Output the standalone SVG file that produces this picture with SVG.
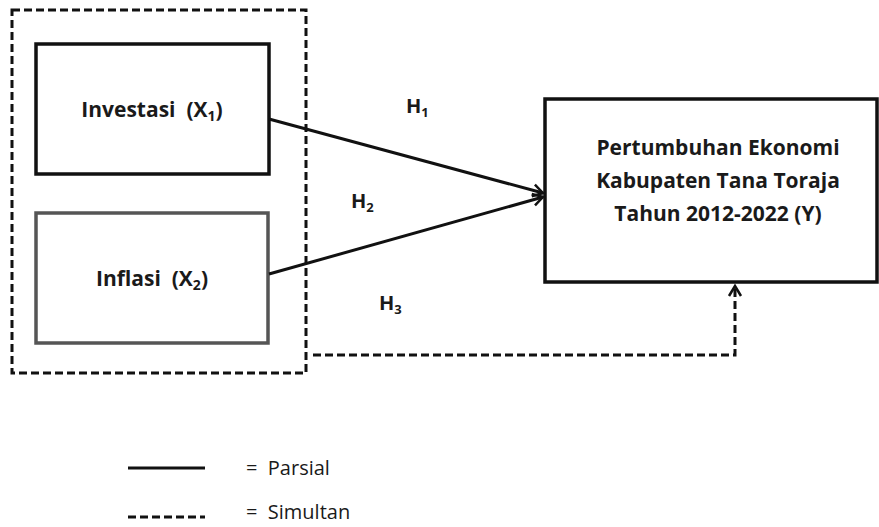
<svg xmlns="http://www.w3.org/2000/svg" width="879" height="527" viewBox="0 0 879 527">
<style>
.lbl{font-family:"Open Sans","Liberation Sans",sans-serif;font-weight:bold;fill:#1a1a1a}
.leg{font-family:"Open Sans","Liberation Sans",sans-serif;font-size:20px;fill:#1a1a1a}
.dash{fill:none;stroke:#111;stroke-width:3;stroke-dasharray:8,4}
.solid{fill:none;stroke:#111;stroke-width:3}
</style>
<defs>
<marker id="arr" markerUnits="userSpaceOnUse" markerWidth="16" markerHeight="16" refX="13" refY="8" orient="auto">
<path d="M3,2 L13,8 L3,14" fill="none" stroke="#111" stroke-width="2.5"/>
</marker>
</defs>
<g id="group-x">
<rect x="12" y="10" width="294" height="363" class="dash"/>
</g>
<g id="investasi">
<rect x="36" y="44" width="233" height="130" fill="#fff" stroke="#111" stroke-width="3.5"/>
<text class="lbl" x="152" y="117" font-size="21" text-anchor="middle" xml:space="preserve">Investasi  (X<tspan font-size="14" dy="4">1</tspan><tspan dy="-4">)</tspan></text>
</g>
<g id="inflasi">
<rect x="36" y="213" width="232" height="130" fill="#fff" stroke="#555" stroke-width="3.5"/>
<text class="lbl" x="152" y="286" font-size="21" text-anchor="middle" xml:space="preserve">Inflasi  (X<tspan font-size="14" dy="4">2</tspan><tspan dy="-4">)</tspan></text>
</g>
<g id="pertumbuhan">
<rect x="545" y="99" width="332" height="183" fill="#fff" stroke="#111" stroke-width="3.5"/>
<text class="lbl" font-size="21" text-anchor="middle"><tspan x="718" y="155">Pertumbuhan Ekonomi</tspan><tspan x="718" y="188">Kabupaten Tana Toraja</tspan><tspan x="718" y="221">Tahun 2012-2022 (Y)</tspan></text>
</g>
<g id="connectors">
<line x1="269" y1="119" x2="543" y2="193" class="solid" marker-end="url(#arr)"/>
<line x1="269" y1="274" x2="543" y2="197" class="solid" marker-end="url(#arr)"/>
<polyline points="313,355 735,355 735,286" class="dash" marker-end="url(#arr)"/>
</g>
<g id="hyp-labels">
<text class="lbl" x="406" y="113" font-size="20">H<tspan font-size="13" dy="4">1</tspan></text>
<text class="lbl" x="351" y="208" font-size="20">H<tspan font-size="13" dy="4">2</tspan></text>
<text class="lbl" x="379" y="310" font-size="20">H<tspan font-size="13" dy="4">3</tspan></text>
</g>
<g id="legend">
<line x1="128" y1="468" x2="205" y2="468" class="solid"/>
<line x1="128" y1="517" x2="205" y2="517" class="dash"/>
<text class="leg" x="246" y="475" xml:space="preserve">=  Parsial</text>
<text class="leg" x="246" y="519" xml:space="preserve">=  Simultan</text>
</g>
</svg>
